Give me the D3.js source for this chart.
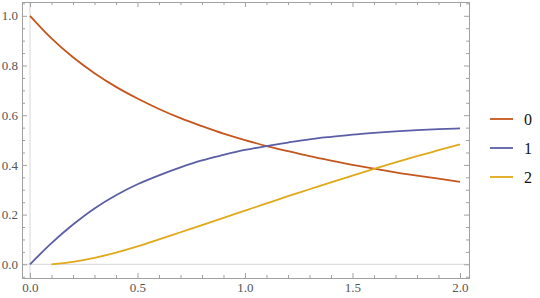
<!DOCTYPE html>
<html>
<head>
<meta charset="utf-8">
<script src="https://cdn.jsdelivr.net/npm/d3@7"></script>
<style>
  html, body { margin: 0; padding: 0; background: #fff; }
  svg { display: block; }
  text { font-family: "Times New Roman", Times, "Liberation Serif", "DejaVu Serif", serif; }
</style>
</head>
<body>
<svg id="chart" width="540" height="298"></svg>
<script>
// ---- data ----
const xs = [0, 0.1, 0.2, 0.3, 0.4, 0.5, 0.6, 0.7, 0.8, 0.9, 1.0, 1.1, 1.2, 1.3, 1.4, 1.5, 1.6, 1.7, 1.8, 1.9, 2.0];
const series0 = [1.0, 0.909, 0.833, 0.769, 0.714, 0.667, 0.625, 0.588, 0.556, 0.526, 0.5, 0.476, 0.455, 0.435, 0.417, 0.4, 0.385, 0.37, 0.357, 0.345, 0.332];
const series1 = [0, 0.085, 0.16, 0.225, 0.278, 0.322, 0.358, 0.39, 0.418, 0.44, 0.46, 0.476, 0.49, 0.503, 0.513, 0.522, 0.529, 0.535, 0.54, 0.544, 0.547];
const series2 = [null, 0, 0.010, 0.026, 0.047, 0.072, 0.100, 0.129, 0.158, 0.187, 0.216, 0.245, 0.274, 0.302, 0.33, 0.357, 0.384, 0.41, 0.435, 0.459, 0.483];
const seriesNames = ["0", "1", "2"];
const seriesColors = ["#c4561e", "#5b5ea6", "#e0a91a"];
const xMajorTicks = [0, 0.5, 1.0, 1.5, 2.0];
const xTickLabels = ["0.0", "0.5", "1.0", "1.5", "2.0"];
const yMajorTicks = [0, 0.2, 0.4, 0.6, 0.8, 1.0];
const yTickLabels = ["0.0", "0.2", "0.4", "0.6", "0.8", "1.0"];
const xMinorTicks = d3.range(0, 21).map(i => i / 10).filter(v => Math.abs(v * 2 - Math.round(v * 2)) > 1e-6);
const yMinorTicks = d3.range(-1, 22).map(i => i / 20).filter(v => Math.abs(v * 5 - Math.round(v * 5)) > 1e-6);

const allSeries = [series0, series1, series2];

// ---- layout ----
const L = 22, R = 469, T = 2, B = 278;
const x = d3.scaleLinear().domain([-0.0372, 2.0419]).range([L, R]);
const y = d3.scaleLinear().domain([-0.0551, 1.0555]).range([B, T]);

const svg = d3.select("#chart");
const frameColor = "#a0a0a0";
const labelColor = "#555";
const font = '"Times New Roman", Times, "Liberation Serif", "DejaVu Serif", serif';

// zero axis lines
svg.append("line").attr("x1", x(0)).attr("x2", x(0)).attr("y1", T).attr("y2", B)
  .attr("stroke", "#d6d6d6").attr("stroke-width", 1);
svg.append("line").attr("x1", L).attr("x2", R).attr("y1", y(0)).attr("y2", y(0))
  .attr("stroke", "#d6d6d6").attr("stroke-width", 1);

function styleAxis(g) {
  g.attr("font-family", font).attr("font-size", 13);
  g.selectAll("path").attr("stroke", frameColor).attr("stroke-width", 1);
  g.selectAll("line").attr("stroke", frameColor).attr("stroke-width", 1);
  g.selectAll("text").attr("fill", labelColor).attr("font-family", font).attr("font-size", 13);
}
const yMinor = yMinorTicks.filter(v => v >= y.domain()[0] && v <= y.domain()[1]);

// bottom
svg.append("g").attr("transform", `translate(0,${B})`)
  .call(d3.axisBottom(x).tickValues(xMajorTicks).tickSize(-5).tickSizeOuter(0).tickPadding(5)
    .tickFormat((d, i) => xTickLabels[i]))
  .call(styleAxis);
svg.append("g").attr("transform", `translate(0,${B})`)
  .call(d3.axisBottom(x).tickValues(xMinorTicks).tickSize(-3).tickSizeOuter(0).tickFormat(""))
  .call(styleAxis);
// top
svg.append("g").attr("transform", `translate(0,${T})`)
  .call(d3.axisTop(x).tickValues(xMajorTicks).tickSize(-5).tickSizeOuter(0).tickFormat(""))
  .call(styleAxis);
svg.append("g").attr("transform", `translate(0,${T})`)
  .call(d3.axisTop(x).tickValues(xMinorTicks).tickSize(-3).tickSizeOuter(0).tickFormat(""))
  .call(styleAxis);
// left
svg.append("g").attr("transform", `translate(${L},0)`)
  .call(d3.axisLeft(y).tickValues(yMajorTicks).tickSize(-5).tickSizeOuter(0).tickPadding(4)
    .tickFormat((d, i) => yTickLabels[i]))
  .call(styleAxis);
svg.append("g").attr("transform", `translate(${L},0)`)
  .call(d3.axisLeft(y).tickValues(yMinor).tickSize(-3).tickSizeOuter(0).tickFormat(""))
  .call(styleAxis);
// right
svg.append("g").attr("transform", `translate(${R},0)`)
  .call(d3.axisRight(y).tickValues(yMajorTicks).tickSize(-5).tickSizeOuter(0).tickFormat(""))
  .call(styleAxis);
svg.append("g").attr("transform", `translate(${R},0)`)
  .call(d3.axisRight(y).tickValues(yMinor).tickSize(-3).tickSizeOuter(0).tickFormat(""))
  .call(styleAxis);

// lines
const line = d3.line()
  .defined(d => d[1] !== null)
  .x(d => x(d[0])).y(d => y(d[1]))
  .curve(d3.curveMonotoneX);

allSeries.forEach((s, i) => {
  svg.append("path")
    .datum(xs.map((v, j) => [v, s[j]]))
    .attr("fill", "none")
    .attr("stroke", seriesColors[i])
    .attr("stroke-width", 1.8)
    .attr("d", line);
});

// legend
const legendY = [119, 148, 177];
seriesNames.forEach((name, i) => {
  svg.append("line").attr("x1", 490).attr("x2", 513).attr("y1", legendY[i]).attr("y2", legendY[i])
    .attr("stroke", seriesColors[i]).attr("stroke-width", 1.8);
  svg.append("text").attr("x", 524).attr("y", legendY[i] + 5.5)
    .text(name).attr("fill", "#111").attr("font-family", font).attr("font-size", 16);
});
</script>
</body>
</html>
